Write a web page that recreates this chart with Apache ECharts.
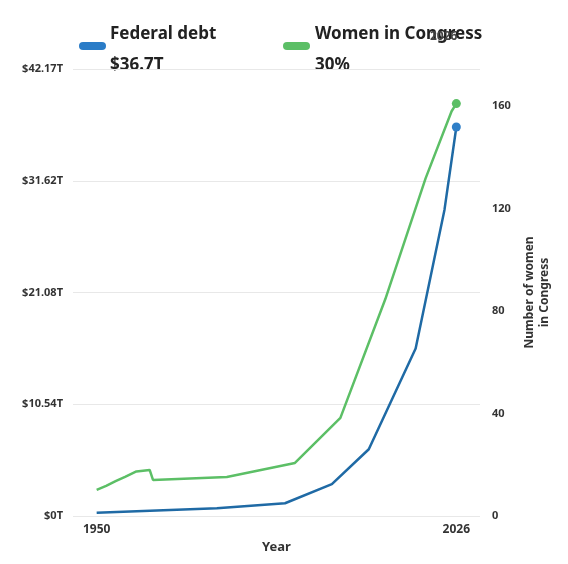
<!DOCTYPE html>
<html><head><meta charset="utf-8">
<script src="https://cdn.jsdelivr.net/npm/echarts@6/dist/echarts.min.js"></script>
<style>html,body{margin:0;padding:0;background:#fff}#c{width:568px;height:564px}</style>
</head><body><div id="c"></div>
<script>
var debtData = [[1950,0.31],[1975.4,0.73],[1989.8,1.2],[1999.7,3.0],[2007.5,6.3],[2017.4,15.8],[2023.5,28.9],[2026,36.7]];
var womenData = [[1950,10.2],[1952,11.8],[1954,13.6],[1956,15.3],[1958.4,17.4],[1961.2,18],[1961.9,14.1],[1977.5,15.2],[1991.9,20.7],[2001.5,38.3],[2011,84.7],[2019.5,131.8],[2025,158],[2026,161]];
var leftTicks = ['$0T','$10.54T','$21.08T','$31.62T','$42.17T'];
var xTicks = [1950, 2026];
var f = 'Noto Sans';
var chart = echarts.init(document.getElementById('c'));
chart.setOption({
  animation:false,
  textStyle:{fontFamily:f},
  grid:{left:73,right:88,top:69,bottom:48,containLabel:false,outerBoundsMode:'none'},
  xAxis:{type:'value',min:1945,max:2031,name:'Year',nameLocation:'middle',nameGap:22,
    nameTextStyle:{fontWeight:'bold',fontSize:13,color:'#333'},
    axisLine:{show:false},axisTick:{show:false},splitLine:{show:false},
    axisLabel:{customValues:xTicks,fontWeight:'bold',fontSize:12,color:'#333',margin:8,formatter:function(v){return String(v);}}},
  yAxis:[
    {type:'value',min:0,max:42.17,interval:10.5425,position:'left',
     axisLabel:{fontWeight:'bold',fontSize:11,color:'#333',margin:10,formatter:function(v){return leftTicks[Math.round(v/10.5425)];}},
     splitLine:{lineStyle:{color:'#e8e8e8'}},axisLine:{show:false},axisTick:{show:false}},
    {type:'value',min:0,max:174.5,interval:40,position:'right',
     name:'Number of women\nin Congress',nameLocation:'middle',nameRotate:90,nameGap:36,
     nameTextStyle:{fontWeight:'bold',fontSize:12,color:'#333',lineHeight:15,padding:[0,0,70,0]},
     axisLabel:{fontWeight:'bold',fontSize:11,color:'#333',margin:12,showMaxLabel:false},
     splitLine:{show:false},axisLine:{show:false},axisTick:{show:false}}
  ],
  series:[
    {type:'line',yAxisIndex:1,data:womenData,symbol:'none',lineStyle:{color:'#5cbf66',width:2.5},
     markPoint:{symbol:'circle',symbolSize:9,label:{show:false},itemStyle:{color:'#5cbf66'},data:[{coord:[2026,161]}]}},
    {type:'line',yAxisIndex:0,data:debtData,symbol:'none',lineStyle:{color:'#1f6aa5',width:2.5},
     markPoint:{symbol:'circle',symbolSize:9,label:{show:false},itemStyle:{color:'#2f7fc8'},data:[{coord:[2026,36.7]}]}}
  ],
  graphic:[
    {type:'rect',shape:{x:79,y:42,width:27,height:8,r:4},style:{fill:'#2a7cc7'}},
    {type:'text',left:110,top:26,style:{text:'Federal debt',font:'bold 17px Noto Sans',fill:'#222'}},
    {type:'text',left:110,top:57,style:{text:'$36.7T',font:'bold 17px Noto Sans',fill:'#222'}},
    {type:'rect',shape:{x:283,y:42,width:27,height:8,r:4},style:{fill:'#5cbf66'}},
    {type:'text',left:315,top:26,style:{text:'Women in Congress',font:'bold 17px Noto Sans',fill:'#222'}},
    {type:'text',left:315,top:57,style:{text:'30%',font:'bold 17px Noto Sans',fill:'#222'}},
    {type:'text',left:430,top:31,style:{text:'2026',font:'bold 12px Noto Sans',fill:'#444'}}
  ]
});
</script></body></html>
